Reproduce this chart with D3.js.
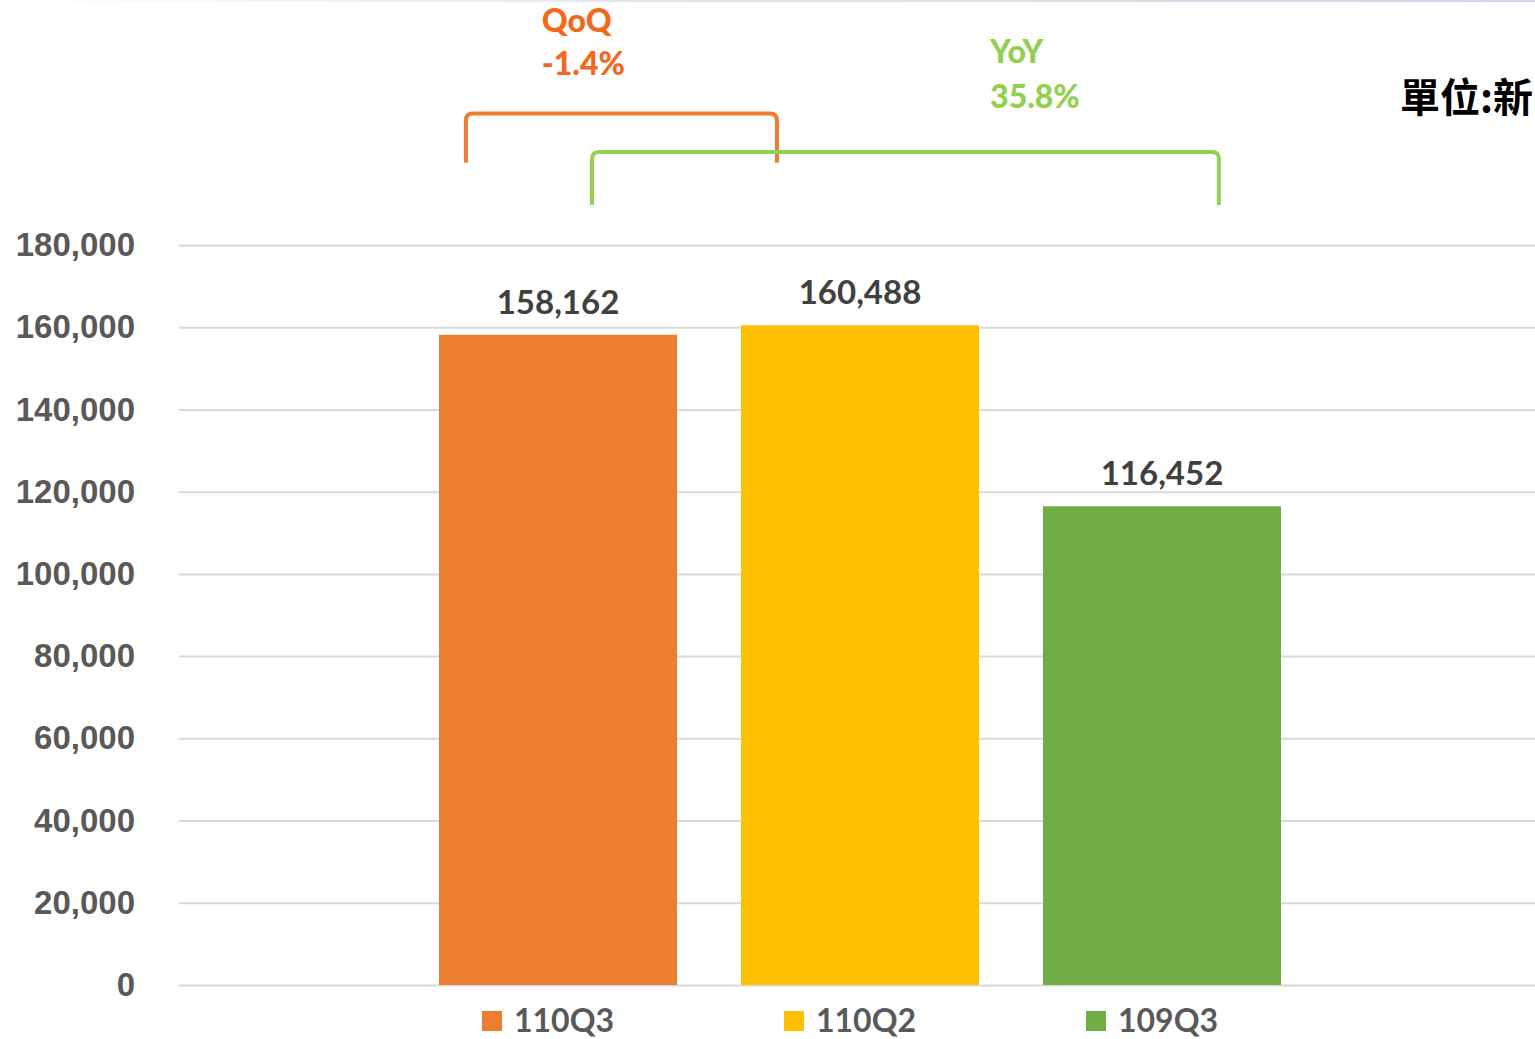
<!DOCTYPE html>
<html lang="zh-Hant">
  <head>
    <meta charset="utf-8" />
    <title>110Q3 vs 110Q2 vs 109Q3</title>
    <style>
      body {
        margin: 0;
        background: #fff;
        overflow: hidden;
      }
      svg {
        display: block;
        font-family: Lato, "Open Sans", sans-serif;
        font-weight: 700;
      }
      .grid line {
        stroke: #d9d9d9;
        stroke-width: 2px;
      }
      .grid text {
        fill: #595959;
        font-size: 33px;
      }
      .value {
        fill: #404040;
        font-size: 33px;
      }
      .legend text {
        fill: #595959;
        font-size: 32px;
      }
      .unit {
        font-family: "Noto Sans CJK TC", serif;
        font-size: 40px;
        font-weight: 700;
        fill: #000;
      }
    </style>
  </head>
  <body>
    <svg></svg>
    <script src="https://d3js.org/d3.v7.min.js"></script>
    <script>
      // chart data
      const series = ["110Q3", "110Q2", "109Q3"];
      const values = [158162, 160488, 116452];
      const colors = ["#ED7D31", "#FFC000", "#70AD47"];
      const yTicks = [0, 20000, 40000, 60000, 80000, 100000, 120000, 140000, 160000, 180000];

      // brackets: from / to series, leg position inside the band (fraction), top & foot in value units
      const brackets = [
        { from: "110Q3", fa: 0.113, to: "110Q2", ta: 0.151, top: 212000, foot: 200000, color: "#ED7D31" },
        { from: "110Q3", fa: 0.643, to: "109Q3", ta: 0.739, top: 202600, foot: 189700, color: "#92D050" },
      ];
      const bracketLabels = [
        { lines: ["QoQ", "-1.4%"], at: 0.244, ys: [231800, 221300], color: "#F5671B" },
        { lines: ["YoY", "35.8%"], at: 0.635, ys: [224300, 213300], color: "#92D050" },
      ];
      const unitLabel = "單位:新台幣仟元";

      const width = 1535;
      const height = 1039;
      const margin = { left: 179, top: 245, bottom: 54 };

      const svg = d3.select("svg").attr("width", width).attr("height", height);

      // faint strip along the top edge
      const grad = svg.append("defs").append("linearGradient").attr("id", "strip");
      grad.append("stop").attr("offset", "0%").attr("stop-color", "#fff");
      grad.append("stop").attr("offset", "40%").attr("stop-color", "#e4e6ee");
      grad.append("stop").attr("offset", "100%").attr("stop-color", "#cfd6ea");
      svg.append("rect").attr("x", 0).attr("y", 0).attr("width", width).attr("height", 2).attr("fill", "url(#strip)");

      const y = d3
        .scaleLinear()
        .domain([0, 180000])
        .range([height - margin.bottom, margin.top]);

      const x = d3
        .scaleBand()
        .domain(series)
        .range([439, 1281])
        .paddingInner(64 / 302)
        .paddingOuter(0);

      // gridlines + y labels
      const grid = svg
        .append("g")
        .attr("class", "grid")
        .attr("transform", `translate(${margin.left},0)`)
        .call(
          d3
            .axisLeft(y)
            .tickValues(yTicks)
            .tickSize(-(width - margin.left))
            .tickPadding(44)
            .tickFormat(d3.format(","))
        );
      grid.select(".domain").remove();

      // bars
      svg
        .append("g")
        .selectAll("rect")
        .data(series)
        .join("rect")
        .attr("x", (d) => x(d))
        .attr("width", x.bandwidth())
        .attr("y", (d, i) => y(values[i]))
        .attr("height", (d, i) => y(0) - y(values[i]))
        .attr("fill", (d, i) => colors[i]);

      // value labels
      svg
        .append("g")
        .selectAll("text")
        .data(series)
        .join("text")
        .attr("class", "value")
        .attr("x", (d) => x(d) + x.bandwidth() / 2)
        .attr("y", (d, i) => y(values[i]) - 21)
        .attr("text-anchor", "middle")
        .text((d, i) => d3.format(",")(values[i]));

      // legend
      const legend = svg
        .append("g")
        .attr("class", "legend")
        .selectAll("g")
        .data(series)
        .join("g")
        .attr("transform", (d) => `translate(${x(d) + x.bandwidth() / 2 - 76},${y(0) + 26})`);
      legend
        .append("rect")
        .attr("width", 20)
        .attr("height", 20)
        .attr("fill", (d, i) => colors[i]);
      legend
        .append("text")
        .attr("x", 32)
        .attr("y", 21)
        .text((d) => d);

      // QoQ / YoY brackets
      const r = 7;
      const bx = (b) => [x(b.from) + b.fa * x.bandwidth(), x(b.to) + b.ta * x.bandwidth()];
      svg
        .append("g")
        .selectAll("path")
        .data(brackets)
        .join("path")
        .attr("fill", "none")
        .attr("stroke", (d) => d.color)
        .attr("stroke-width", 4)
        .attr("d", (d) => {
          const [x0, x1] = bx(d);
          const t = y(d.top);
          const f = y(d.foot);
          return `M${x0},${f} L${x0},${t + r} Q${x0},${t} ${x0 + r},${t} L${x1 - r},${t} Q${x1},${t} ${x1},${t + r} L${x1},${f}`;
        });

      bracketLabels.forEach((l, i) => {
        const [x0, x1] = bx(brackets[i]);
        svg
          .append("g")
          .selectAll("text")
          .data(l.lines)
          .join("text")
          .attr("x", x0 + l.at * (x1 - x0))
          .attr("y", (d, j) => y(l.ys[j]))
          .attr("fill", l.color)
          .attr("font-size", 32)
          .attr("font-weight", 900)
          .text((d) => d);
      });

      // unit label (runs off the right edge, as in the original slide)
      svg
        .append("text")
        .attr("class", "unit")
        .attr("x", 1400)
        .attr("y", 112)
        .text(unitLabel);
    </script>
  </body>
</html>
